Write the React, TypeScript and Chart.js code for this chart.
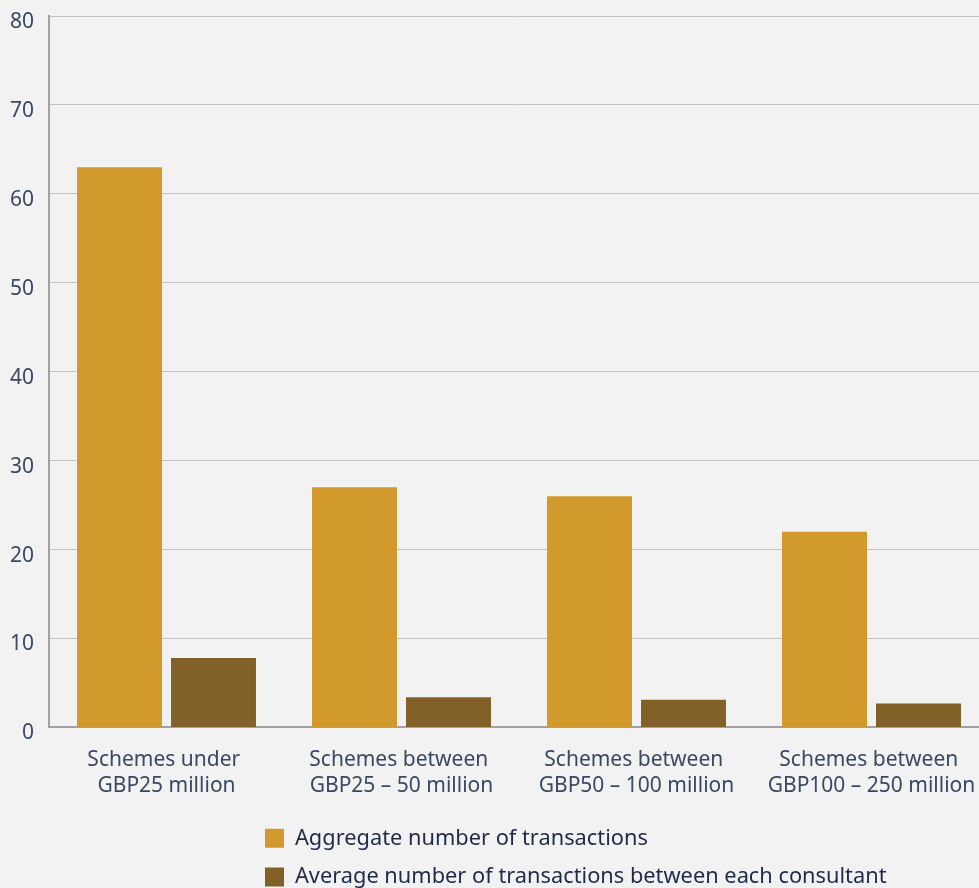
import React, { useEffect, useRef } from "react";
import { Chart, registerables } from "chart.js";

Chart.register(...registerables);

const categories: string[][] = [
  ["Schemes under ", "GBP25 million"],
  ["Schemes between ", "GBP25 – 50 million"],
  ["Schemes between ", "GBP50 – 100 million"],
  ["Schemes between ", "GBP100 – 250 million"],
];
const aggregateValues: number[] = [63, 27, 26, 22];
const averageValues: number[] = [7.8, 3.4, 3.1, 2.7];
const seriesNames: string[] = [
  "Aggregate number of transactions",
  "Average number of transactions between each consultant",
];
const yMin = 0;
const yMax = 80;
const yStep = 10;

const FONT = "'Noto Sans', 'Open Sans', sans-serif";

export default function App() {
  const ref = useRef<HTMLCanvasElement | null>(null);

  useEffect(() => {
    if (!ref.current) return;
    const legendShift = {
      id: "legendShift",
      beforeDraw(chart: any) {
        if (chart.legend) {
          chart.legend.left = 248;
        }
      },
    };
    const chart = new Chart(ref.current, {
      type: "bar",
      data: {
        labels: categories,
        datasets: [
          {
            label: seriesNames[0],
            data: aggregateValues,
            backgroundColor: "#D29A2D",
            barPercentage: 0.904,
            categoryPercentage: 0.8,
          },
          {
            label: seriesNames[1],
            data: averageValues,
            backgroundColor: "#816127",
            barPercentage: 0.904,
            categoryPercentage: 0.8,
          },
        ],
      },
      options: {
        animation: false,
        responsive: false,
        maintainAspectRatio: false,
        layout: { padding: { top: 16, right: 1, left: 0, bottom: 0 } },
        plugins: {
          tooltip: { enabled: false },
          legend: {
            display: true,
            position: "bottom",
            align: "start",
            labels: {
              boxWidth: 19,
              boxHeight: 19,
              padding: 17,
              color: "#1f2b46",
              font: { family: FONT, size: 21.8 },
            },
          },
        },
        scales: {
          x: {
            grid: { display: false, drawTicks: false },
            border: { display: true, color: "#a2a2a5", width: 2 },
            ticks: {
              color: "#3a4860",
              font: { family: FONT, size: 21, lineHeight: 1.24 },
              padding: 20,
              maxRotation: 0,
              autoSkip: false,
            },
            afterFit(scale: any) {
              scale.height = 83;
              scale.paddingLeft = 0;
              scale.paddingRight = 0;
            },
          },
          y: {
            min: yMin,
            max: yMax,
            grid: { color: "#c4c4c4", lineWidth: 1, drawTicks: false },
            border: { display: true, color: "#a2a2a5", width: 2 },
            ticks: {
              stepSize: yStep,
              color: "#3a4860",
              font: { family: FONT, size: 21 },
              padding: 15,
              labelOffset: 6,
            },
            afterFit(scale: any) {
              scale.width = 49;
              scale.paddingTop = 0;
              scale.paddingBottom = 0;
            },
          },
        },
      },
      plugins: [legendShift],
    });
    return () => chart.destroy();
  }, []);

  return (
    <div
      style={{
        position: "fixed",
        left: 0,
        top: 0,
        width: 979,
        height: 888,
        overflow: "hidden",
        background: "#f2f2f2",
      }}
    >
      <canvas ref={ref} width={990} height={898} style={{ display: "block" }} />
    </div>
  );
}
